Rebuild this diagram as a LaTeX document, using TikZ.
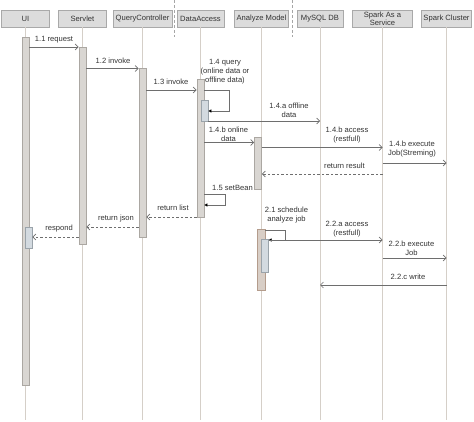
\documentclass[tikz,border=0pt]{standalone}
\usepackage{fontspec}
\setmainfont{Liberation Sans}
\usetikzlibrary{arrows.meta}
\definecolor{headfill}{HTML}{DCDCDC}
\definecolor{headline}{HTML}{A9A9A9}
\definecolor{lifecol}{HTML}{D5CFC8}
\definecolor{barfill}{HTML}{D9D6D2}
\definecolor{barline}{HTML}{ABA7A2}
\definecolor{subfill}{HTML}{D3DAE0}
\definecolor{subline}{HTML}{9AA3AA}
\definecolor{jobfill}{HTML}{D8CEC6}
\definecolor{jobline}{HTML}{B49C8C}
\definecolor{msgcol}{HTML}{6E6E6E}
\definecolor{txtcol}{HTML}{333333}

\begin{document}
\begin{tikzpicture}[x=1pt,y=-1pt,font=\fontsize{7.6}{9}\selectfont,text=txtcol]
  \tikzstyle{head}=[fill=headfill,draw=headline,line width=0.8pt,minimum height=17pt,inner sep=0pt,align=center]
  \tikzstyle{lifeline}=[draw=lifecol,line width=0.9pt]
  \tikzstyle{bar}=[fill=barfill,draw=barline,line width=0.7pt,minimum width=7pt,inner sep=0pt,anchor=north]
  \tikzstyle{subbar}=[bar,fill=subfill,draw=subline]
  \tikzstyle{jobbar}=[bar,fill=jobfill,draw=jobline,minimum width=8pt]
  \tikzstyle{msg}=[draw=msgcol,line width=0.7pt,-{Straight Barb[length=3pt,width=6pt]}]
  \tikzstyle{reply}=[msg,dash pattern=on 2.5pt off 2pt]
  \tikzstyle{selfmsg}=[draw=msgcol,line width=0.7pt,-{Triangle[length=3pt,width=3pt,color=black]}]
  \tikzstyle{lbl}=[align=center,inner sep=0pt]
  \tikzstyle{sep}=[draw=gray!70,line width=0.7pt,dash pattern=on 3pt off 2pt]

  \useasboundingbox (0,0) rectangle (474,422);

  % heads
  \node[head,minimum width=48pt] (ui)  at (25.5,18.5)  {UI};
  \node[head,minimum width=48pt] (sv)  at (82.5,18.5)  {Servlet};
  \node[head,minimum width=59pt] (qc)  at (142.5,18.5) {QueryController};
  \node[head,minimum width=47pt] (da)  at (200.5,18.5) {DataAccess};
  \node[head,minimum width=54pt] (am)  at (261.5,18.5) {Analyze Model};
  \node[head,minimum width=46pt] (db)  at (320,18.5)   {MySQL DB};
  \node[head,minimum width=60pt,font=\fontsize{7.6}{8.3}\selectfont] (sas) at (382.5,18.5) {Spark As a\\Service};
  \node[head,minimum width=50pt] (sc)  at (446.5,18.5) {Spark Cluster};

  \draw[sep] (174.5,0) -- (174.5,37);
  \draw[sep] (292,0) -- (292,37);

  % lifelines
  \coordinate (uiend)  at (25.5,420);
  \coordinate (svend)  at (82.5,420);
  \coordinate (qcend)  at (142.5,420);
  \coordinate (daend)  at (200.5,420);
  \coordinate (amend)  at (261.5,420);
  \coordinate (dbend)  at (320,420);
  \coordinate (sasend) at (382.5,420);
  \coordinate (scend)  at (446.5,420);
  \draw[lifeline] (ui)  -- (uiend);
  \draw[lifeline] (sv)  -- (svend);
  \draw[lifeline] (qc)  -- (qcend);
  \draw[lifeline] (da)  -- (daend);
  \draw[lifeline] (am)  -- (amend);
  \draw[lifeline] (db)  -- (dbend);
  \draw[lifeline] (sas) -- (sasend);
  \draw[lifeline] (sc)  -- (scend);

  % activations
  \node[bar,minimum height=348pt]    (uib)  at (25.5,37)  {};
  \node[subbar,minimum height=21pt]  (uib2) at (28.5,227) {};
  \node[bar,minimum height=197pt]    (svb)  at (82.5,47)  {};
  \node[bar,minimum height=169pt]    (qcb)  at (142.5,68) {};
  \node[bar,minimum height=138pt]    (dab)  at (200.5,79) {};
  \node[subbar,minimum height=21pt]  (dab2) at (204.5,100) {};
  \node[bar,minimum height=52pt]     (amb)  at (258,137)  {};
  \node[jobbar,minimum height=61pt]  (amb2) at (261,229)  {};
  \node[subbar,minimum height=33pt,minimum width=6.5pt] (amb3) at (265,239) {};

  % rows
  \coordinate (y11)  at (0,47);
  \coordinate (y12)  at (0,68.5);
  \coordinate (y13)  at (0,90);
  \coordinate (y14a) at (0,121);
  \coordinate (y14b) at (0,142.5);
  \coordinate (y14c) at (0,147.5);
  \coordinate (y14d) at (0,163);
  \coordinate (y14r) at (0,174);
  \coordinate (yrl)  at (0,217);
  \coordinate (yrj)  at (0,227);
  \coordinate (yrs)  at (0,237);
  \coordinate (y22b) at (0,258);
  \coordinate (y22c) at (0,285);
  \coordinate (q14a) at (229,90);
  \coordinate (q14b) at (229,111);
  \coordinate (q15a) at (225,194);
  \coordinate (q15b) at (225,205);
  \coordinate (q21a) at (285,230);
  \coordinate (q21b) at (285,240);

  % messages
  \draw[msg] (uib.east |- y11) -- (svb.west |- y11);
  \node[lbl] (l11) at (54,40) {1.1 request};

  \draw[msg] (svb.east |- y12) -- (qcb.west |- y12);
  \node[lbl] (l12) at (113,61) {1.2 invoke};

  \draw[msg] (qcb.east |- y13) -- (dab.west |- y13);
  \node[lbl] (l13) at (171,82) {1.3 invoke};

  \draw[selfmsg] (dab.east |- q14a) -- (q14a) -- (q14b) -- (dab2.east |- q14b);
  \node[lbl] (l14) at (225,72) {1.4 query\\(online data or\\offline data)};

  \draw[msg] (dab2.east |- y14a) -- (dbend |- y14a);
  \node[lbl] (l14a) at (289,110.5) {1.4.a offline\\data};

  \draw[msg] (dab.east |- y14b) -- (amb.west |- y14b);
  \node[lbl] (l14b) at (228.5,134) {1.4.b online\\data};

  \draw[msg] (amb.east |- y14c) -- (sasend |- y14c);
  \node[lbl] (l14c) at (347,135.5) {1.4.b access\\(restfull)};

  \draw[msg] (sasend |- y14d) -- (scend |- y14d);
  \node[lbl] (l14d) at (412,149.5) {1.4.b execute\\Job(Streming)};

  \draw[reply] (sasend |- y14r) -- (amb.east |- y14r);
  \node[lbl] (l14r) at (344.5,166) {return result};

  \draw[selfmsg] (dab.east |- q15a) -- (q15a) -- (q15b) -- (dab.east |- q15b);
  \node[lbl] (l15) at (232.5,188) {1.5 setBean};

  \draw[reply] (dab.west |- yrl) -- (qcb.east |- yrl);
  \node[lbl] (lrl) at (173,208) {return list};

  \draw[reply] (qcb.west |- yrj) -- (svb.east |- yrj);
  \node[lbl] (lrj) at (116,218.5) {return json};

  \draw[reply] (svb.west |- yrs) -- (uib2.east |- yrs);
  \node[lbl] (lrs) at (59,229) {respond};

  \draw[selfmsg] (amb2.east |- q21a) -- (q21a) -- (q21b) -- (amb3.east |- q21b);
  \node[lbl] (l21) at (286.5,215) {2.1 schedule\\analyze job};

  \draw[msg] (amb3.east |- q21b) -- (sasend |- q21b);
  \node[lbl] (l22a) at (347,229.5) {2.2.a access\\(restfull)};

  \draw[msg] (sasend |- y22b) -- (scend |- y22b);
  \node[lbl] (l22b) at (411.5,248.5) {2.2.b execute\\Job};

  \draw[msg] (scend |- y22c) -- (dbend |- y22c);
  \node[lbl] (l22c) at (408,276.5) {2.2.c write};

\end{tikzpicture}
\end{document}
